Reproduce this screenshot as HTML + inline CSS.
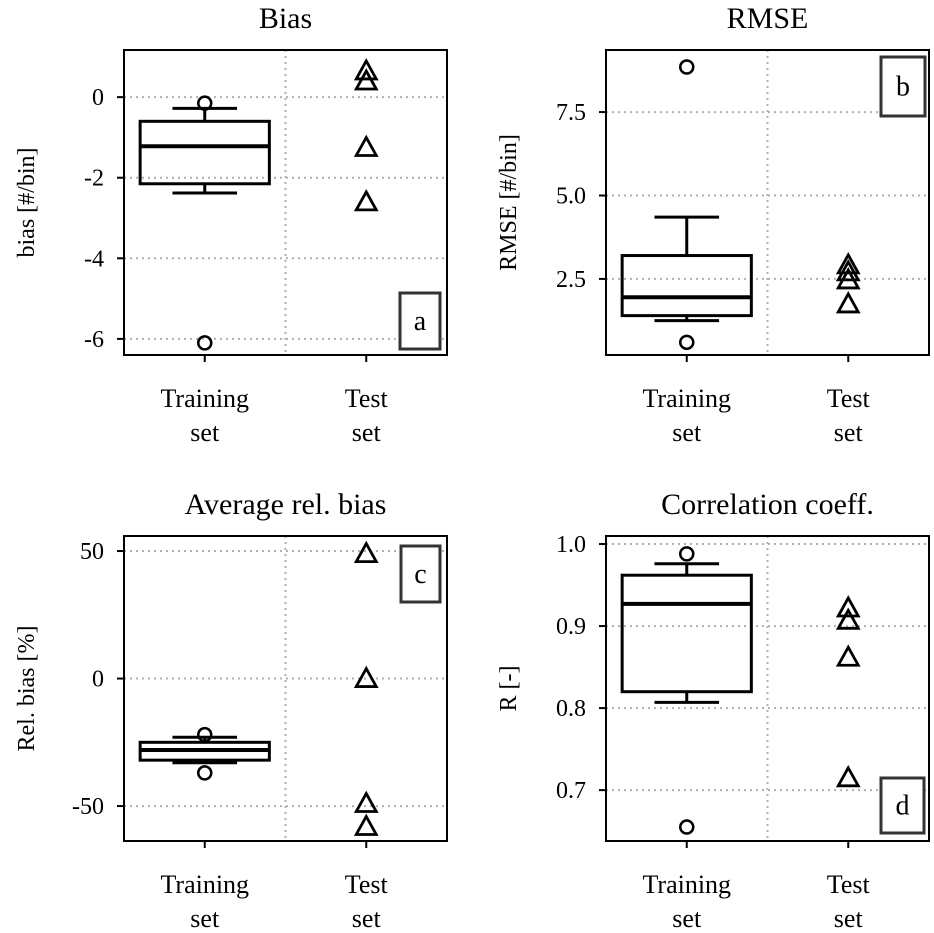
<!DOCTYPE html>
<html><head><meta charset="utf-8"><style>
html,body{margin:0;padding:0;background:#fff;}
svg text{font-family:"Liberation Serif","DejaVu Serif",serif;fill:#000;}
</style></head><body>
<svg id="fig" width="934" height="928" viewBox="0 0 934 928" xmlns="http://www.w3.org/2000/svg"></svg>
<script>
const categories = ["Training\nset","Test\nset"];
const panelTitles = ["Bias","RMSE","Average rel. bias","Correlation coeff."];
const panelYLabels = ["bias [#/bin]","RMSE [#/bin]","Rel. bias [%]","R [-]"];
const panelLetters = ["a","b","c","d"];
// box stats: [whiskerLow, q1, median, q3, whiskerHigh]
const boxA = [-2.38,-2.15,-1.22,-0.6,-0.28];
const boxB = [1.25,1.4,1.95,3.2,4.35];
const boxC = [-33,-32,-28,-25,-23];
const boxD = [0.807,0.82,0.927,0.962,0.976];
const outliersA = [-0.15,-6.1];
const outliersB = [8.85,0.6];
const outliersC = [-22,-37];
const outliersD = [0.988,0.655];
const testA = [0.65,0.4,-1.25,-2.6];
const testB = [2.92,2.71,2.47,1.75];
const testC = [49,0,-49,-58];
const testD = [0.922,0.907,0.862,0.715];
const ticksA = [0,-2,-4,-6];
const ticksB = [2.5,5.0,7.5];
const ticksC = [50,0,-50];
const ticksD = [0.7,0.8,0.9,1.0];
const tickLabelsA = ["0","-2","-4","-6"];
const tickLabelsB = ["2.5","5.0","7.5"];
const tickLabelsC = ["50","0","-50"];
const tickLabelsD = ["0.7","0.8","0.9","1.0"];

const NS="http://www.w3.org/2000/svg";
const svg=document.getElementById('fig');
function mk(tag,attrs,parent){const e=document.createElementNS(NS,tag);for(const k in attrs)e.setAttribute(k,attrs[k]);(parent||svg).appendChild(e);return e;}

const panels=[
 {x0:124,y0:50,box:boxA,out:outliersA,test:testA,ticks:ticksA,tl:tickLabelsA,ymin:-6.4,ymax:1.17,letter:[400,293,40,56]},
 {x0:606,y0:50,box:boxB,out:outliersB,test:testB,ticks:ticksB,tl:tickLabelsB,ymin:0.22,ymax:9.36,letter:[881,57,44,59]},
 {x0:124,y0:536,box:boxC,out:outliersC,test:testC,ticks:ticksC,tl:tickLabelsC,ymin:-63.7,ymax:55.9,letter:[401,546,39,56]},
 {x0:606,y0:536,box:boxD,out:outliersD,test:testD,ticks:ticksD,tl:tickLabelsD,ymin:0.638,ymax:1.0098,letter:[881,778,43,55]}
];
const W=323,H=305;
panels.forEach((p,i)=>{
 const g=mk('g',{});
 
 
 const X=v=>p.x0+(v-0.5)/2*W;
 const Y=v=>p.y0+H-(v-p.ymin)/(p.ymax-p.ymin)*H;
 p.ticks.forEach((t,j)=>{
  const gl=mk('line',{x1:p.x0,x2:p.x0+W,y1:Y(t),y2:Y(t),stroke:'#b0b0b0','stroke-width':2,'stroke-dasharray':'2,4'},g);
  
  
  mk('line',{x1:p.x0-7,x2:p.x0,y1:Y(t),y2:Y(t),stroke:'#000','stroke-width':2},g);
  const tx=mk('text',{x:p.x0-20,y:Y(t)+8,'text-anchor':'end','font-size':24},g);
  tx.textContent=p.tl[j];
  
  
 });
 mk('line',{x1:X(1.5),x2:X(1.5),y1:p.y0,y2:p.y0+H,stroke:'#b0b0b0','stroke-width':2,'stroke-dasharray':'2,4'},g);
 categories.forEach((c,j)=>{
  const cx=X(j+1);
  mk('line',{x1:cx,x2:cx,y1:p.y0+H,y2:p.y0+H+7,stroke:'#000','stroke-width':2},g);
  c.split('\n').forEach((ln,k)=>{
   const t=mk('text',{x:cx,y:p.y0+H+52+k*34,'text-anchor':'middle','font-size':26},g);
   t.textContent=ln;
   
   
  });
 });
 const b=p.box, cx=X(1), bw=0.4*W/2;
 const bg=mk('g',{stroke:'#000',fill:'none','stroke-width':3},g);
 
 
 mk('rect',{x:cx-bw,y:Y(b[3]),width:2*bw,height:Y(b[1])-Y(b[3])},bg);
 mk('line',{x1:cx-bw,x2:cx+bw,y1:Y(b[2]),y2:Y(b[2]),'stroke-width':4},bg);
 mk('line',{x1:cx,x2:cx,y1:Y(b[1]),y2:Y(b[0])},bg);
 mk('line',{x1:cx,x2:cx,y1:Y(b[3]),y2:Y(b[4])},bg);
 mk('line',{x1:cx-bw/2,x2:cx+bw/2,y1:Y(b[0]),y2:Y(b[0])},bg);
 mk('line',{x1:cx-bw/2,x2:cx+bw/2,y1:Y(b[4]),y2:Y(b[4])},bg);
 p.out.forEach(v=>{
  const c=mk('circle',{cx:cx,cy:Y(v),r:6.5,fill:'none',stroke:'#000','stroke-width':2.5},g);
  
  
 });
 const tx2=X(2);
 p.test.forEach(v=>{
  const y=Y(v);
  const tr=mk('polygon',{points:`${tx2},${y-10} ${tx2-10},${y+8} ${tx2+10},${y+8}`,fill:'none',stroke:'#000','stroke-width':2.8,'stroke-linejoin':'miter'},g);
  
  
 });
 mk('rect',{x:p.x0,y:p.y0,width:W,height:H,fill:'none',stroke:'#000','stroke-width':2},g);
 const tt=mk('text',{x:p.x0+W/2,y:p.y0-22,'text-anchor':'middle','font-size':30},g);
 tt.textContent=panelTitles[i];
 
 
 const yl=mk('text',{x:0,y:0,'text-anchor':'middle','font-size':24,transform:`translate(${p.x0-90},${p.y0+H/2}) rotate(-90)`},g);
 yl.textContent=panelYLabels[i];
 
 
 const L=p.letter;
 const lg=mk('g',{},g);
 
 
 mk('rect',{x:L[0],y:L[1],width:L[2],height:L[3],fill:'#fff',stroke:'#333','stroke-width':3},lg);
 const lt=mk('text',{x:L[0]+L[2]/2,y:L[1]+L[3]/2+9,'text-anchor':'middle','font-size':28},lg);
 lt.textContent=panelLetters[i];
});
</script>
</body></html>
